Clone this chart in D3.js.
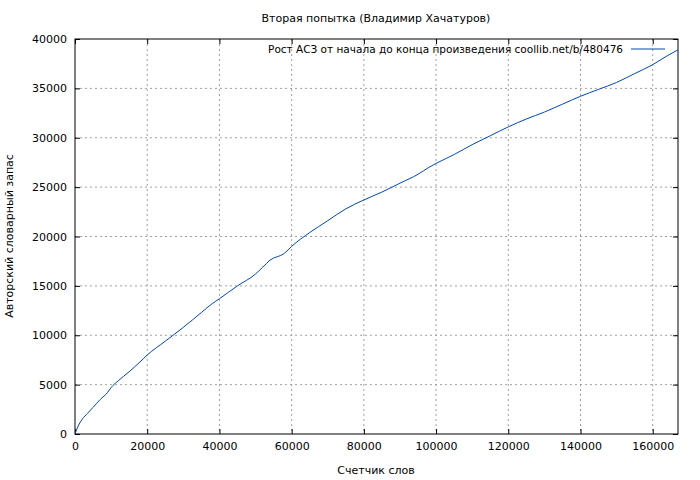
<!DOCTYPE html>
<html><head><meta charset="utf-8">
<script src="https://cdn.jsdelivr.net/npm/d3@7"></script>
<style>body{margin:0;background:#fff}text{font-family:"DejaVu Sans",sans-serif;font-size:11px;fill:#000}</style>
</head><body><svg id="c" width="700" height="480"></svg>
<script>
const title="Вторая попытка (Владимир Хачатуров)";
const xLabel="Счетчик слов";
const yLabel="Авторский словарный запас";
const legendLabel="Рост АСЗ от начала до конца произведения  coollib.net/b/480476";
const xTicks=[0,20000,40000,60000,80000,100000,120000,140000,160000];
const yTicks=[0,5000,10000,15000,20000,25000,30000,35000,40000];
const words=[0,1000,2000,3500,5000,7000,9000,10000,12000,15000,18000,20000,25000,30000,35000,38000,40000,45000,50000,52000,54000,58000,60000,65000,70000,75000,80000,85000,90000,95000,98000,100000,105000,110000,115000,120000,125000,130000,135000,140000,145000,150000,155000,160000,164000,167000];
const vocab=[0,900,1500,2100,2700,3500,4200,4700,5400,6300,7300,8000,9400,10800,12300,13200,13700,15000,16200,16900,17600,18300,19000,20400,21600,22800,23700,24500,25400,26300,27000,27400,28300,29300,30200,31100,31900,32600,33400,34200,34900,35600,36500,37400,38300,38900];

const svg=d3.select("#c");
const L=75,R=678,T=39,B=434;
const x=d3.scaleLinear().domain([0,167000]).range([L,R]);
const y=d3.scaleLinear().domain([0,40000]).range([B,T]);
const g=svg.append("g");
g.selectAll(".gx").data(xTicks.slice(1)).enter().append("line").attr("x1",d=>x(d)).attr("x2",d=>x(d)).attr("y1",T).attr("y2",B).attr("stroke","#a0a0a0").attr("stroke-dasharray","2,3");
g.selectAll(".gy").data(yTicks.slice(1,-1)).enter().append("line").attr("y1",d=>y(d)).attr("y2",d=>y(d)).attr("x1",L).attr("x2",R).attr("stroke","#a0a0a0").attr("stroke-dasharray","2,3");
const xa=d3.axisBottom(x).tickValues(xTicks).tickSize(-5).tickPadding(8).tickFormat(d3.format("d"));
const ya=d3.axisLeft(y).tickValues(yTicks).tickSize(-5).tickPadding(8).tickFormat(d3.format("d"));
const xg=svg.append("g").attr("transform",`translate(0,${B})`).call(xa);
const yg=svg.append("g").attr("transform",`translate(${L},0)`).call(ya);
[xg,yg].forEach(a=>{a.select(".domain").remove();a.selectAll("text").style("font-family","DejaVu Sans").style("font-size","11px");});
svg.append("g").attr("transform",`translate(0,${T})`).call(d3.axisTop(x).tickValues(xTicks).tickSize(-5).tickFormat("")).select(".domain").remove();
svg.append("g").attr("transform",`translate(${R},0)`).call(d3.axisRight(y).tickValues(yTicks).tickSize(-5).tickFormat("")).select(".domain").remove();
svg.append("rect").attr("x",L).attr("y",T).attr("width",R-L).attr("height",B-T).attr("fill","none").attr("stroke","#000");
svg.append("path").datum(words.map((w,i)=>[w,vocab[i]])).attr("d",d3.line().x(d=>x(d[0])).y(d=>y(d[1])).curve(d3.curveMonotoneX)).attr("fill","none").attr("stroke","#0047b3").attr("stroke-width",1);
svg.append("text").attr("x",623).attr("y",53).attr("text-anchor","end").style("font-size","10.5px").text(legendLabel);
svg.append("line").attr("x1",631).attr("x2",665).attr("y1",49).attr("y2",49).attr("stroke","#0047b3");
svg.append("text").attr("x",376).attr("y",22).attr("text-anchor","middle").text(title);
svg.append("text").attr("x",376).attr("y",474).attr("text-anchor","middle").text(xLabel);
svg.append("text").attr("transform","translate(13,236) rotate(-90)").attr("text-anchor","middle").text(yLabel);
</script></body></html>
